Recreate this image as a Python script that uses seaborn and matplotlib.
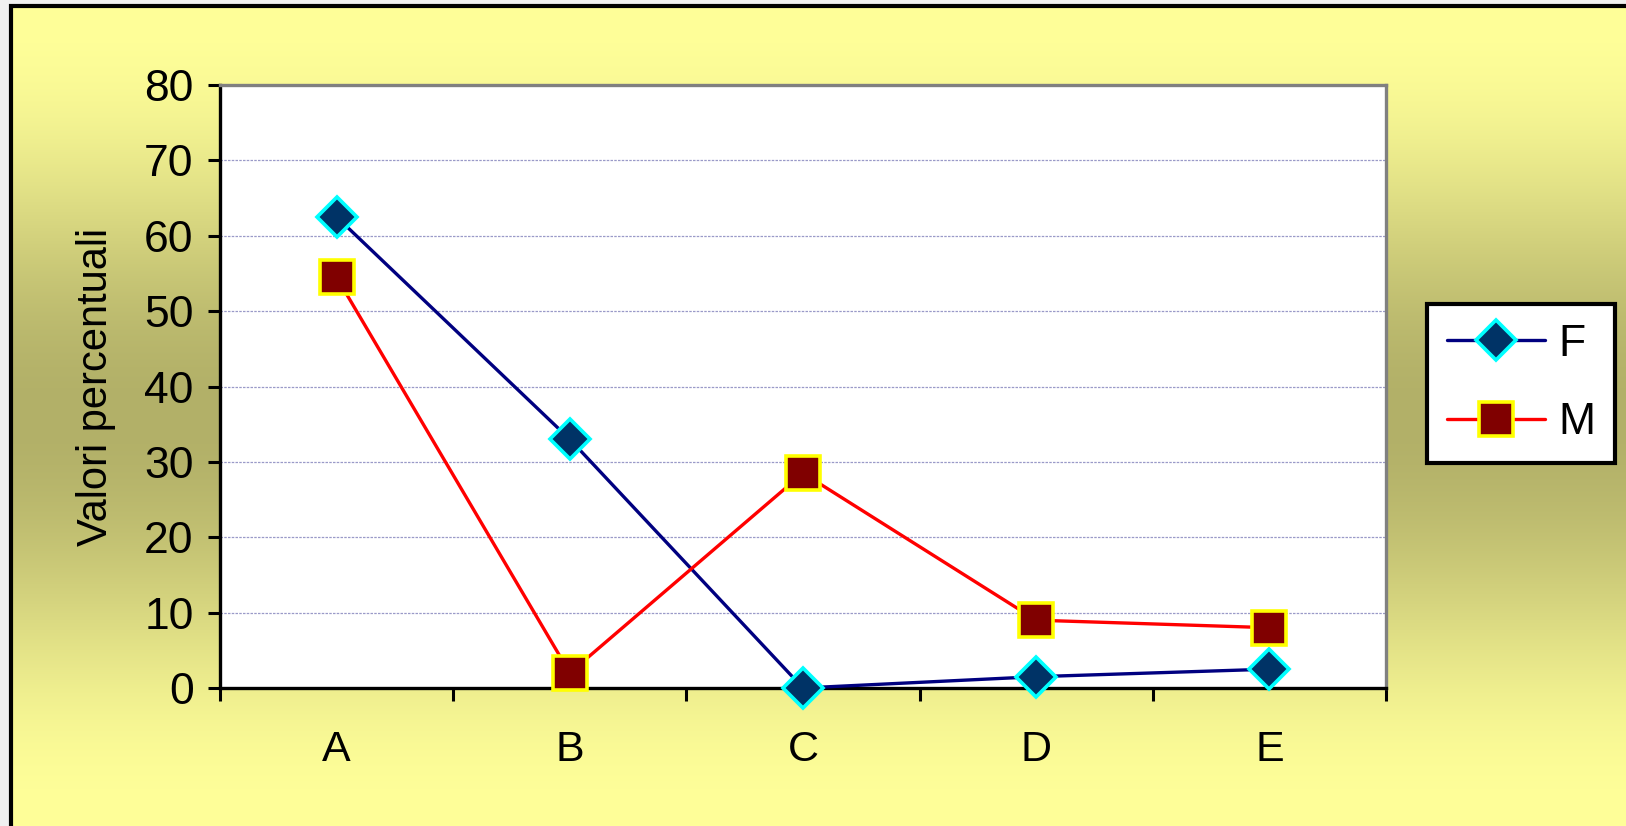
import numpy as np
import matplotlib
matplotlib.use("Agg")
import matplotlib.pyplot as plt
import seaborn as sns
from matplotlib.patches import Rectangle
from matplotlib.ticker import FixedLocator

# Data
categories = ["A", "B", "C", "D", "E"]
f_values = [62.5, 33.0, 0.0, 1.5, 2.5]
m_values = [54.5, 2.0, 28.5, 9.0, 8.0]
y_ticks = [0, 10, 20, 30, 40, 50, 60, 70, 80]

sns.set_theme(style="white")
plt.rcParams["font.family"] = ["Liberation Sans", "DejaVu Sans"]
plt.rcParams["text.color"] = "black"

W, H = 1626, 826
fig = plt.figure(figsize=(W / 100, H / 100), dpi=100, facecolor="#F0F0F0")

# ── Background: vertical yellow/khaki gradient with a black frame
bg = fig.add_axes([0, 0, 1, 1], zorder=-2)
bg.set_axis_off()
t = np.linspace(0, 1, 400)
d = np.sin(np.pi * t) ** 2.2
light = np.array([255, 255, 153]) / 255
dark = np.array([178, 176, 104]) / 255
grad = light[None, :] * (1 - d[:, None]) + dark[None, :] * d[:, None]
x0, y1 = 11 / W, 1 - 6 / H
bg.imshow(grad[:, None, :], extent=[x0, 1.01, 0, y1], aspect="auto",
          transform=fig.transFigure, zorder=0)
bg.set_xlim(0, 1)
bg.set_ylim(0, 1)
fig.patches.append(Rectangle((x0, -0.01), 1.02, y1 + 0.01, transform=fig.transFigure,
                             fill=False, edgecolor="black", linewidth=3, zorder=5))

# ── Plot area
ax = fig.add_axes([220 / W, 1 - 688 / H, (1386 - 220) / W, (688 - 85) / H])
ax.set_facecolor("white")

sns.lineplot(x=categories, y=f_values, ax=ax, color="#000080", linewidth=2.4,
             marker="D", markersize=20, markerfacecolor="#003366",
             markeredgecolor="#00FFFF", markeredgewidth=2.6, label="F",
             clip_on=False, zorder=4)
sns.lineplot(x=categories, y=m_values, ax=ax, color="#FF0000", linewidth=2.4,
             marker="s", markersize=24, markerfacecolor="#800000",
             markeredgecolor="#FFFF00", markeredgewidth=2.6, label="M",
             clip_on=False, zorder=4)

ax.set_xlim(-0.5, 4.5)
ax.set_ylim(0, 80)
ax.set_yticks(y_ticks)
ax.yaxis.grid(True, color="#9A9AC8", linestyle=(0, (2, 1)), linewidth=0.9)
ax.xaxis.grid(False)
ax.set_axisbelow(True)

# category labels centred, tick marks on the boundaries
ax.set_xticks(range(len(categories)))
ax.set_xticklabels(categories)
ax.xaxis.set_minor_locator(FixedLocator(np.arange(-0.5, len(categories), 1.0)))
ax.tick_params(axis="x", which="major", length=0, pad=30, labelsize=31, colors="black")
ax.tick_params(axis="x", which="minor", bottom=True, length=9, width=2.2, color="black")
ax.tick_params(axis="y", which="major", left=True, length=9, width=2.2, pad=10,
               labelsize=32, colors="black")

for side in ["left", "bottom"]:
    ax.spines[side].set_color("black")
    ax.spines[side].set_linewidth(2.4)
for side in ["top", "right"]:
    ax.spines[side].set_color("#808080")
    ax.spines[side].set_linewidth(2.4)

ax.set_xlabel("")
ax.set_ylabel("Valori percentuali", fontsize=30, color="black", labelpad=20)

leg = ax.legend(loc="center", bbox_to_anchor=(0.9354, 0.5357),
                bbox_transform=fig.transFigure, fontsize=32, frameon=True,
                fancybox=False, edgecolor="black", facecolor="white", framealpha=1,
                handlelength=2.2, handletextpad=0.3, labelspacing=0.85,
                borderpad=0.45, borderaxespad=0, labelcolor="black")
leg.get_frame().set_linewidth(3)

fig.savefig("out.png", dpi=100, facecolor=fig.get_facecolor())
